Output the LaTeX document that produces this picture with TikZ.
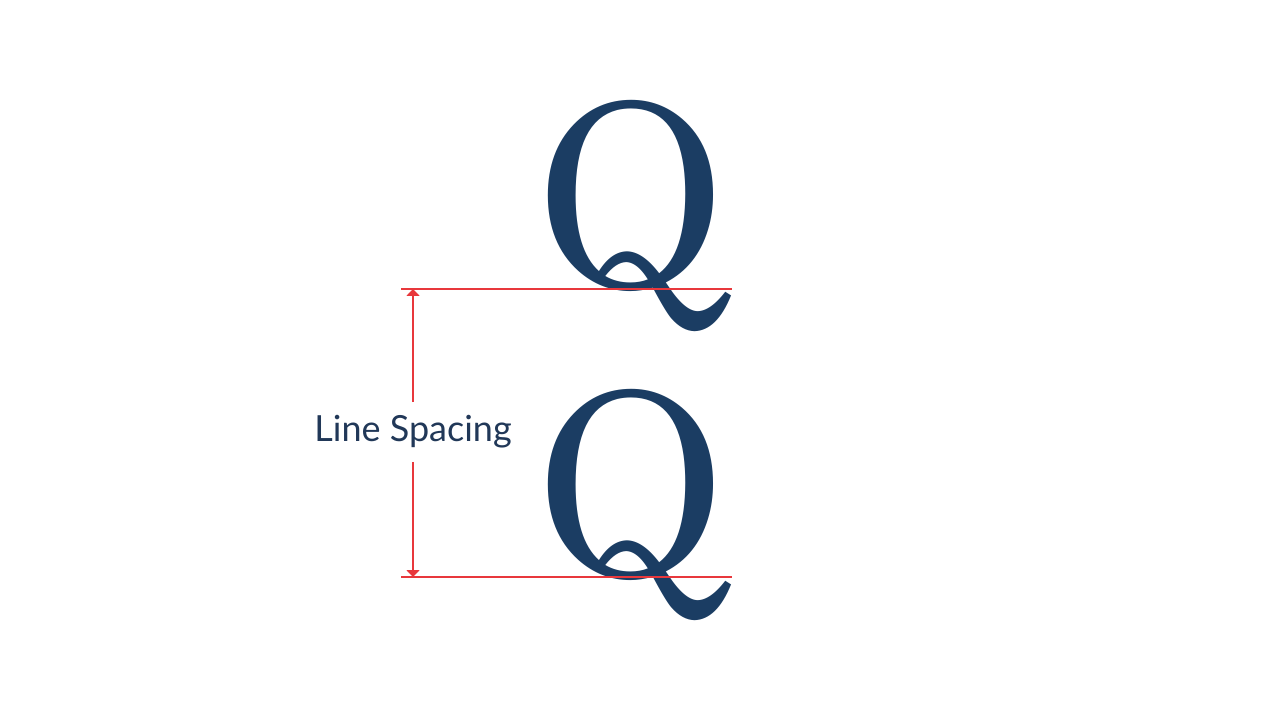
\documentclass[tikz,border=0pt]{standalone}
\usepackage{fontspec}
\usetikzlibrary{arrows.meta,positioning}
\newfontfamily\glyphfont{Abhaya Libre}
\newfontfamily\labelfont{Lato}
\definecolor{qnavy}{RGB}{27,61,99}
\definecolor{lsred}{RGB}{232,56,60}
\definecolor{labelnavy}{RGB}{33,56,88}

\begin{document}
\begin{tikzpicture}[x=0.017578cm, y=-0.017578cm,
    bigq/.style={anchor=base, inner sep=0pt, text=qnavy,
      font=\fontsize{158}{158}\selectfont\glyphfont},
    qrule/.style={lsred, line width=1.1pt},
    measure/.style={lsred, line width=1.1pt, -{Triangle[width=6.5pt,length=3.5pt]}},
    spacelabel/.style={font=\fontsize{18}{18}\selectfont\labelfont, text=labelnavy,
      inner xsep=0pt, inner ysep=6.5pt}]
  \useasboundingbox (0,0) rectangle (1280,720);
  \def\gap{288}

  % the two glyphs, one line apart
  \node[bigq] (qtop) at (631,289) {\scalebox{0.9}[1]{Q}};
  \node[bigq] (qbot) at (631,289+\gap) {\scalebox{0.9}[1]{Q}};

  % baselines
  \coordinate (topl) at (401,289);
  \coordinate (topr) at (732,289);
  \coordinate (botl) at (401,289+\gap);
  \coordinate (botr) at (732,289+\gap);
  \draw[qrule] (topl) -- (topr);
  \draw[qrule] (botl) -- (botr);

  % line spacing measure
  \coordinate (mtop) at (413,289);
  \coordinate (mbot) at (413,289+\gap);
  \node[spacelabel] (ls) at (413,432) {Line Spacing};
  \draw[measure] (ls) -- (mtop);
  \draw[measure] (ls) -- (mbot);
\end{tikzpicture}
\end{document}
